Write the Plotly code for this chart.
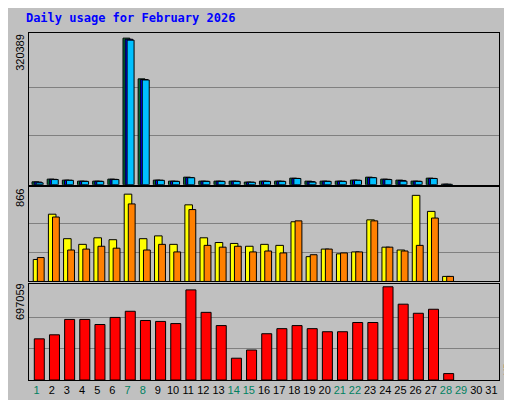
import plotly.graph_objects as go

days = list(range(1, 32))
hits = [6500,12400,10200,8000,8000,12400,320389,231400,10200,8000,16700,8000,8000,8000,5900,8000,8000,14500,8000,8000,8000,10200,16700,12400,10200,8000,14500,1500]
files = [6000,12000,10000,7800,7800,12000,318000,230000,10000,7800,16000,7800,7800,7800,5800,7800,7800,14000,7000,7800,7800,10000,16000,12000,9500,7800,14000,1200]
pages = [4300,11500,9800,7500,7500,11500,316000,229000,9800,7500,15500,7500,7500,7500,5500,7500,7500,13800,5900,7500,7500,9800,15500,11500,8000,7500,13800,1000]
visits = [218,667,424,368,433,414,866,424,452,368,760,433,386,377,349,368,358,592,246,321,274,293,611,340,312,854,695,50]
sites = [237,639,312,321,349,330,769,312,368,293,713,358,340,349,293,302,283,601,265,321,283,293,601,340,302,358,629,50]
kbytes = [307800,338000,453000,453000,415000,468000,514000,445000,438000,422000,674000,506000,407000,163000,224000,346000,384000,407000,384000,361000,361000,430000,430000,697059,567000,499000,529000,48000]
weekend = {1,7,8,14,15,21,22,28,29}

fig = go.Figure()
n = len(hits)
x = days[:n]
line = dict(color="black", width=1)
fig.add_bar(x=x, y=hits, offset=-0.30, width=0.45, marker=dict(color="#008040", line=line), xaxis="x", yaxis="y")
fig.add_bar(x=x, y=files, offset=-0.16, width=0.5, marker=dict(color="#0000FF", line=line), xaxis="x", yaxis="y")
fig.add_bar(x=x, y=pages, offset=-0.03, width=0.46, marker=dict(color="#00C0FF", line=line), xaxis="x", yaxis="y")
fig.add_bar(x=x, y=visits, offset=-0.22, width=0.5, marker=dict(color="#FFFF00", line=line), xaxis="x2", yaxis="y2")
fig.add_bar(x=x, y=sites, offset=0.05, width=0.45, marker=dict(color="#FF8000", line=line), xaxis="x2", yaxis="y2")
fig.add_bar(x=x, y=kbytes, offset=-0.15, width=0.66, marker=dict(color="#FF0000", line=line), xaxis="x3", yaxis="y3")

mx1, mx2, mx3 = max(hits), max(visits), max(kbytes)
ticktext = [f"<span style='color:{'#008060' if d in weekend else 'black'}'>{d}</span>" for d in days]
xcommon = dict(range=[0.5, 31.5], showline=True, linecolor="black", mirror=True, linewidth=1, showgrid=False, fixedrange=True)
fig.update_layout(
    width=512, height=400, margin=dict(l=21, r=21, t=25, b=23),
    paper_bgcolor="#C0C0C0", plot_bgcolor="#C0C0C0", showlegend=False, barmode="overlay",
    font=dict(family="DejaVu Sans Mono", size=11, color="black"),
    xaxis=dict(**xcommon, anchor="y", showticklabels=False, ticks=""),
    xaxis2=dict(**xcommon, anchor="y2", matches="x", showticklabels=False, ticks=""),
    xaxis3=dict(**xcommon, anchor="y3", matches="x", tickmode="array", tickvals=days, ticktext=ticktext, ticks="", tickangle=0, tickfont=dict(family="Liberation Sans", size=11)),
    yaxis=dict(domain=[0.5625, 1], range=[0, mx1*1.035], tickvals=[mx1/3, 2*mx1/3], showticklabels=False, gridcolor="#808080", showline=True, linecolor="black", mirror=True, zeroline=False),
    yaxis2=dict(domain=[0.284, 0.557], range=[0, mx2*1.085], tickvals=[mx2/3, 2*mx2/3], showticklabels=False, gridcolor="#808080", showline=True, linecolor="black", mirror=True, zeroline=False),
    yaxis3=dict(domain=[0, 0.278], range=[0, mx3*1.035], tickvals=[mx3/3, 2*mx3/3], showticklabels=False, gridcolor="#808080", showline=True, linecolor="black", mirror=True, zeroline=False),
    title=dict(text="<b>Daily usage for February 2026</b>", x=0.035, xanchor="left", y=0.975, yanchor="middle", font=dict(family="DejaVu Sans Mono", size=12, color="#0000FF")),
)
def lab(text, xp, yp, size=11):
    return dict(text=text, x=xp, y=yp, xref="paper", yref="paper", xanchor="center", yanchor="middle",
                textangle=-90, showarrow=False, font=dict(family="Liberation Sans" if text[0].isdigit() else "DejaVu Sans Mono", size=size))
ann = [
    lab(str(mx1), -0.019, 0.943),
    lab(str(mx2), -0.019, 0.525),
    lab(str(mx3), -0.019, 0.225),
    lab("<span style='color:#00C0FF'>Pages</span> / <span style='color:#0000FF'>Files</span> / <span style='color:#008060'>Hits</span>", 1.021, 0.835),
    lab("<span style='color:#FF8000'>Sites</span> / <span style='color:#FFFF00'>Visits</span>", 1.021, 0.409),
    lab("<span style='color:#FF0000'>KBytes</span>", 1.021, 0.07),
]
fig.update_layout(annotations=ann)
fig.write_html("out.html")
